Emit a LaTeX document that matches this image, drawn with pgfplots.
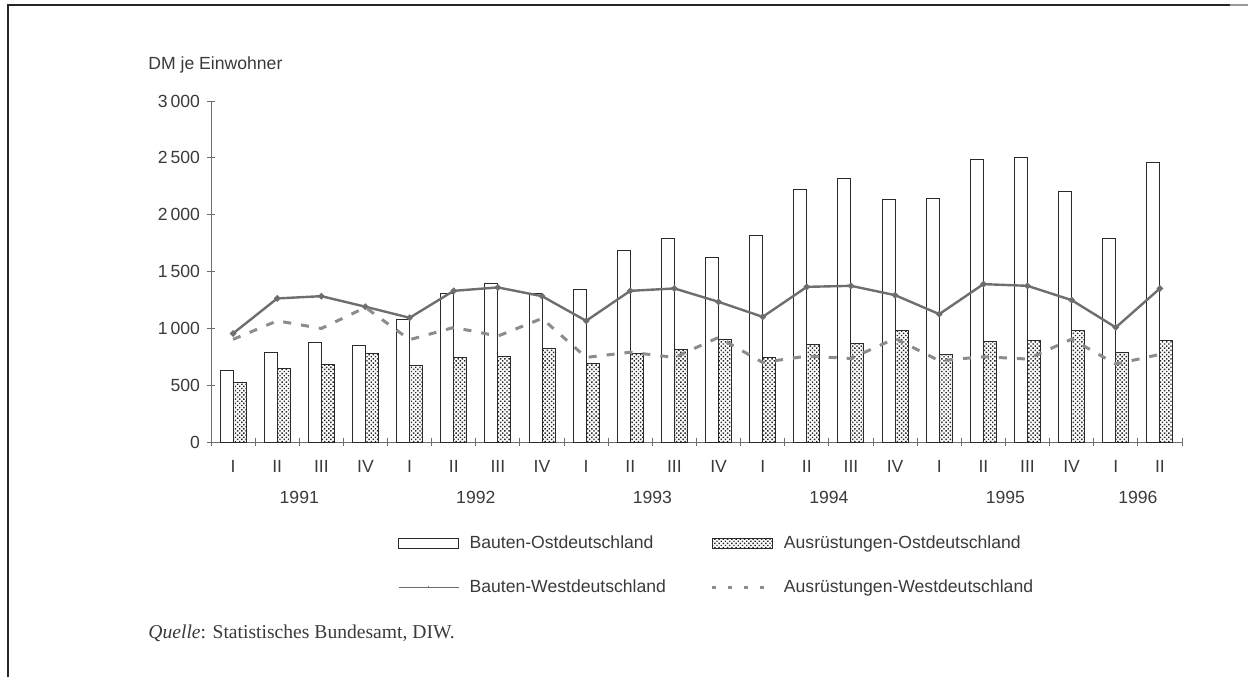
\documentclass[border=0pt]{standalone}
\usepackage{pgfplots}
\pgfplotsset{compat=1.18}
\usepackage{pgfplotstable}
\usepackage{fontspec}
\setmainfont{Liberation Sans}
\newfontfamily\serif{Liberation Serif}
\usetikzlibrary{patterns.meta}

\definecolor{txt}{HTML}{3A3A3A}
\definecolor{barline}{HTML}{2A2A2A}
\definecolor{westsolid}{HTML}{6E6E6E}
\definecolor{westdash}{HTML}{8C8C8C}

\pgfplotsset{
  barlegend/.style={legend image code/.code={\draw[##1] (0pt,-2.5pt) rectangle (30pt,2.5pt);}},
  solidlegend/.style={legend image code/.code={\draw[draw=westsolid, line width=0.8pt] (0pt,0pt) -- (30pt,0pt);
      \draw[draw=westsolid, line width=0.6pt] (15pt,0pt) -- (15pt,0.8pt);}},
  dashlegend/.style={legend image code/.code={\draw[draw=westdash, line width=1.5pt, dash pattern=on 2pt off 6pt] (0pt,0pt) -- (30pt,0pt);}},
}

% quarters 1991 I ... 1996 II, DM je Einwohner
\pgfplotstableread{
q  bo    ao   bw    aw
0  630   521  955   903
1  785   650  1263  1066
2  873   683  1283  999
3  846   779  1190  1184
4  1080  671  1093  900
5  1310  741  1330  1008
6  1398  750  1360  932
7  1305  823  1283  1087
8  1345  691  1066  744
9  1688  779  1330  790
10 1793  817  1351  744
11 1626  905  1233  920
12 1820  744  1101  700
13 2224  858  1365  756
14 2320  870  1374  735
15 2136  984  1292  911
16 2145  768  1125  715
17 2487  882  1389  750
18 2505  897  1374  730
19 2206  982  1248  905
20 1793  785  1008  686
21 2461  894  1351  771
}\data

\begin{document}
\begin{tikzpicture}
\useasboundingbox (0,0) rectangle (624pt,338.5pt);
\draw[line width=0.6pt, black!85] (4pt,0) -- (4pt,336pt) -- (615pt,336pt);
\draw[line width=0.6pt, black!40] (615pt,336pt) -- (624pt,336pt);
\node[anchor=base west, font=\fontsize{8.8}{10}\selectfont, text=txt, inner sep=0pt] at (74pt,304pt) {DM je Einwohner};
\node[anchor=base west, font=\serif\fontsize{9.8}{11}\selectfont, text=txt, inner sep=0pt] at (74pt,19.5pt) {\textit{Quelle}: Statistisches Bundesamt, DIW.};

\begin{axis}[
  at={(105.5pt,117.5pt)}, anchor=south west,
  scale only axis, width=485.5pt, height=170.5pt,
  xmin=-0.5, xmax=21.5, ymin=0, ymax=3000,
  axis x line=bottom, axis y line=left,
  axis line style={-, draw=westsolid, line width=0.5pt},
  tick align=center, major tick length=4pt,
  tick style={draw=westsolid, line width=0.5pt},
  ytick={0,500,...,3000},
  yticklabels={0,500,1\,000,1\,500,2\,000,2\,500,3\,000},
  xtick={-0.5,0.5,...,21.5}, xticklabels={},
  extra x ticks={0,1,...,21},
  extra x tick labels={I,II,III,IV,I,II,III,IV,I,II,III,IV,I,II,III,IV,I,II,III,IV,I,II},
  extra x tick style={tick style={draw=none}},
  xticklabel style={yshift=-3.5pt},
  /pgf/number format/assume math mode=true,
  tick label style={font=\fontsize{8.8}{10}\selectfont, text=txt},
  clip=false,
  legend columns=2,
  legend style={
    at={(axis description cs:0.1926,-0.273)}, anchor=north west,
    draw=none, fill=none, inner sep=0pt, outer sep=0pt,
    font=\fontsize{8.8}{10}\selectfont, text=txt,
    nodes={inner sep=0pt, text height=6.5pt, text depth=1.8pt},
    /tikz/row sep=13.7pt,
    /tikz/every odd column/.append style={column sep=5pt},
    /tikz/every even column/.append style={column sep=22.5pt},
  },
  legend cell align=left,
]
\addplot[ybar, bar width=6.5pt, bar shift=-3.25pt, draw=barline, line width=0.5pt, fill=white, barlegend]
  table[x=q, y=bo] {\data};
\addplot[ybar, bar width=6.5pt, bar shift=3.25pt, draw=barline, line width=0.5pt, fill=white,
  postaction={pattern={Dots[distance=1.5pt, angle=45, radius=0.5pt]}, pattern color=black!85}, barlegend]
  table[x=q, y=ao] {\data};
\addplot[sharp plot, draw=westsolid, line width=1.2pt, mark=*, mark size=0.9pt,
  mark options={fill=westsolid, draw=westsolid}, solidlegend]
  table[x=q, y=bw] {\data};
\addplot[sharp plot, draw=westdash, line width=1.5pt, dash pattern=on 4pt off 5pt, mark=none, dashlegend]
  table[x=q, y=aw] {\data};
\legend{Bauten-Ostdeutschland, Ausrüstungen-Ostdeutschland, Bauten-Westdeutschland, Ausrüstungen-Westdeutschland}

\node[font=\fontsize{8.8}{10}\selectfont, text=txt] at (axis cs:1.5,0) [yshift=-27.5pt] {1991};
\node[font=\fontsize{8.8}{10}\selectfont, text=txt] at (axis cs:5.5,0) [yshift=-27.5pt] {1992};
\node[font=\fontsize{8.8}{10}\selectfont, text=txt] at (axis cs:9.5,0) [yshift=-27.5pt] {1993};
\node[font=\fontsize{8.8}{10}\selectfont, text=txt] at (axis cs:13.5,0) [yshift=-27.5pt] {1994};
\node[font=\fontsize{8.8}{10}\selectfont, text=txt] at (axis cs:17.5,0) [yshift=-27.5pt] {1995};
\node[font=\fontsize{8.8}{10}\selectfont, text=txt] at (axis cs:20.5,0) [yshift=-27.5pt] {1996};
\end{axis}
\end{tikzpicture}
\end{document}
